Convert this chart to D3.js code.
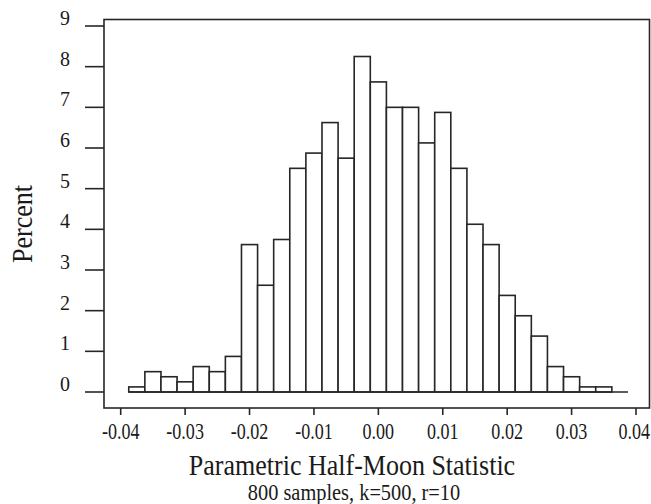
<!DOCTYPE html>
<html>
<head>
<meta charset="utf-8">
<script src="https://cdn.jsdelivr.net/npm/d3@7"></script>
<style>
  html, body { margin: 0; padding: 0; background: #fff; }
  svg { display: block; }
  text { font-family: "Liberation Serif", "DejaVu Serif", serif; fill: #1a1a1a; }
</style>
</head>
<body>
<svg id="chart" width="651" height="504"></svg>
<script>
// Histogram bins: centres of 0.0025-wide classes and the percent of 800 samples in each
const binCenters = [
  -0.0375, -0.035, -0.0325, -0.03, -0.0275, -0.025, -0.0225, -0.02, -0.0175, -0.015,
  -0.0125, -0.01, -0.0075, -0.005, -0.0025, 0.0, 0.0025, 0.005, 0.0075, 0.01,
  0.0125, 0.015, 0.0175, 0.02, 0.0225, 0.025, 0.0275, 0.03, 0.0325, 0.035, 0.0375
];
const percents = [
  0.125, 0.5, 0.375, 0.25, 0.625, 0.5, 0.875, 3.625, 2.625, 3.75,
  5.5, 5.875, 6.625, 5.75, 8.25, 7.625, 7.0, 7.0, 6.125, 6.875,
  5.5, 4.125, 3.625, 2.375, 1.875, 1.375, 0.625, 0.375, 0.125, 0.125, 0.0
];
const binWidth = 0.0025;

const xTickValues = [-0.04, -0.03, -0.02, -0.01, 0.0, 0.01, 0.02, 0.03, 0.04];
const xTickLabels = ["-0.04", "-0.03", "-0.02", "-0.01", "0.00", "0.01", "0.02", "0.03", "0.04"];
const yTickValues = [0, 1, 2, 3, 4, 5, 6, 7, 8, 9];

const xTitle = "Parametric Half-Moon Statistic";
const subTitle = "800 samples, k=500, r=10";
const yTitle = "Percent";

const W = 651;
const ink = "#262626";
const svg = d3.select("#chart");

const x = d3.scaleLinear().domain([-0.04, 0.04]).range([120.7, 636]);
const y = d3.scaleLinear().domain([0, 9]).range([392, 26]);

// tall, narrow serif lettering: stretch glyphs vertically about their baseline
function tallText(sel, px, py, sx, sy) {
  return sel.attr("transform", `translate(${px},${py}) scale(${sx},${sy})`);
}

// frame around plotting area
const frame = { left: 104, right: 649.5, top: 19.5, bottom: 408 };
svg.append("rect")
  .attr("x", frame.left).attr("y", frame.top)
  .attr("width", frame.right - frame.left)
  .attr("height", frame.bottom - frame.top)
  .attr("fill", "none").attr("stroke", ink).attr("stroke-width", 1.6);

// bars
const bins = binCenters.map((c, i) => ({ x0: c - binWidth / 2, x1: c + binWidth / 2, v: percents[i] }));
svg.append("g").selectAll("rect")
  .data(bins.filter(d => d.v > 0))
  .join("rect")
  .attr("x", d => x(d.x0))
  .attr("width", d => x(d.x1) - x(d.x0))
  .attr("y", d => y(d.v))
  .attr("height", d => y(0) - y(d.v))
  .attr("fill", "#fff")
  .attr("stroke", ink)
  .attr("stroke-width", 1.6);

// baseline under the bins
svg.append("line")
  .attr("x1", x(bins[0].x0)).attr("x2", x(bins[bins.length - 1].x1))
  .attr("y1", y(0)).attr("y2", y(0))
  .attr("stroke", ink).attr("stroke-width", 1.6);

// y axis ticks, outside the frame
const yAxis = svg.append("g");
yAxis.selectAll("line")
  .data(yTickValues)
  .join("line")
  .attr("x1", 85).attr("x2", frame.left)
  .attr("y1", d => y(d)).attr("y2", d => y(d))
  .attr("stroke", ink).attr("stroke-width", 1.6);
yAxis.selectAll("text")
  .data(yTickValues)
  .join("text")
  .each(function (d) { tallText(d3.select(this), 70, y(d) - 1, 1, 1.08); })
  .attr("text-anchor", "end")
  .attr("font-size", 20)
  .text(d => d);

// x axis ticks below the frame
const xAxis = svg.append("g");
xAxis.selectAll("line")
  .data(xTickValues)
  .join("line")
  .attr("x1", d => x(d)).attr("x2", d => x(d))
  .attr("y1", frame.bottom).attr("y2", frame.bottom + 7)
  .attr("stroke", ink).attr("stroke-width", 1.6);
const sx = 0.86;
xAxis.selectAll("text")
  .data(xTickValues)
  .join("text")
  .attr("text-anchor", "middle")
  .attr("font-size", 21)
  .text((d, i) => xTickLabels[i])
  .each(function (d) {
    // keep the outermost label inside the page edge
    const half = this.getComputedTextLength() * sx / 2;
    const cx = Math.min(x(d), W - 1 - half);
    tallText(d3.select(this), cx, 439, sx, 1.08);
  });

// titles
tallText(svg.append("text"), 352, 475, 1, 1.13)
  .attr("text-anchor", "middle")
  .attr("font-size", 26)
  .text(xTitle);
tallText(svg.append("text"), 354, 500, 0.97, 1.06)
  .attr("text-anchor", "middle")
  .attr("font-size", 21)
  .text(subTitle);
svg.append("text")
  .attr("transform", "translate(32,224) rotate(-90) scale(1,1.12)")
  .attr("text-anchor", "middle")
  .attr("font-size", 26)
  .text(yTitle);
</script>
</body>
</html>
